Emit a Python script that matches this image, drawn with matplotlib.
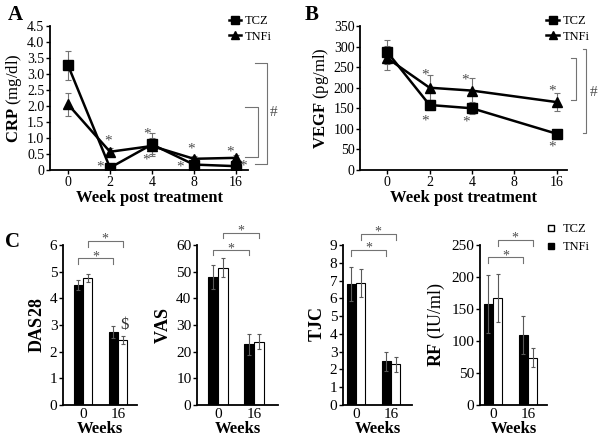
import matplotlib
matplotlib.use("Agg")
import matplotlib.pyplot as plt
from matplotlib.lines import Line2D

plt.rcParams["font.family"] = "Liberation Serif"
plt.rcParams["mathtext.fontset"] = "custom"
plt.rcParams["mathtext.rm"] = "Liberation Serif"
plt.rcParams["mathtext.bf"] = "Liberation Serif:bold"

# panel A / B: time course
weeks = ["0", "2", "4", "8", "16"]
crp_tcz = [3.27, 0.07, 0.80, 0.17, 0.12]
crp_tcz_err = [0.45, 0.05, 0.35, 0.08, 0.05]
crp_tnfi = [2.05, 0.57, 0.75, 0.35, 0.38]
crp_tnfi_err = [0.35, 0.13, 0.25, 0.08, 0.10]

vegf_weeks = ["0", "2", "4", "16"]
vegf_tcz = [287, 158, 150, 88]
vegf_tcz_err = [30, 12, 15, 6]
vegf_tnfi = [272, 200, 193, 165]
vegf_tnfi_err = [30, 30, 30, 22]

# panel C: bars (week 0 vs 16)
bar_weeks = ["0", "16"]
das28_tnfi = [4.50, 2.75]
das28_tnfi_err = [0.20, 0.22]
das28_tcz = [4.78, 2.45]
das28_tcz_err = [0.15, 0.15]
vas_tnfi = [48.0, 22.7]
vas_tnfi_err = [4.5, 3.8]
vas_tcz = [51.5, 23.8]
vas_tcz_err = [3.5, 2.8]
tjc_tnfi = [6.80, 2.45]
tjc_tnfi_err = [0.95, 0.55]
tjc_tcz = [6.85, 2.30]
tjc_tcz_err = [0.80, 0.42]
rf_tnfi = [158, 109]
rf_tnfi_err = [45, 30]
rf_tcz = [167, 74]
rf_tcz_err = [38, 15]

GRAY = "0.45"

fig = plt.figure(figsize=(6, 4.38), dpi=100)


def style(ax):
    for s in ("top", "right"):
        ax.spines[s].set_visible(False)
    for s in ("left", "bottom"):
        ax.spines[s].set_linewidth(1.3)
    ax.tick_params(direction="out", length=3, width=1, labelsize=10, pad=1)


def line_panel(ax, pos_tcz, tcz, tcz_err, pos_tnfi, tnfi, tnfi_err):
    ax.errorbar(pos_tcz, tcz, yerr=tcz_err, fmt="none", ecolor=GRAY, elinewidth=0.8, capsize=2, capthick=0.8)
    ax.errorbar(pos_tnfi, tnfi, yerr=tnfi_err, fmt="none", ecolor=GRAY, elinewidth=0.8, capsize=2, capthick=0.8)
    ax.plot(pos_tcz, tcz, "-s", color="black", lw=1.8, ms=6.5, label="TCZ", zorder=3)
    ax.plot(pos_tnfi, tnfi, "-^", color="black", lw=1.8, ms=6.5, label="TNFi", zorder=3)
    ax.set_xticks(range(len(weeks)), weeks)
    ax.set_xlabel("Week post treatment", fontsize=12, fontweight="bold", labelpad=1)
    ax.legend(loc="upper left", bbox_to_anchor=(0.87, 1.12), frameon=False, fontsize=9,
              handlelength=1.0, handletextpad=0.3, labelspacing=0.3, borderpad=0, markerscale=0.85)


def side_bracket(ax, x, xt, y0, y1):
    tr = ax.get_yaxis_transform()
    ax.plot([xt, x, x, xt], [y0, y0, y1, y1], color=GRAY, lw=0.8, transform=tr, clip_on=False)


def stars(ax, pts):
    for x, y in pts:
        ax.text(x, y, "*", ha="center", va="center", fontsize=11, color="0.3")


# ---- A ----
axA = fig.add_axes([50 / 600, 1 - 170 / 438, 198 / 600, 144 / 438])
style(axA)
line_panel(axA, range(5), crp_tcz, crp_tcz_err, range(5), crp_tnfi, crp_tnfi_err)
axA.set_xlim(-0.43, 4.29)
axA.set_ylim(0, 4.5)
axA.set_yticks([0, 0.5, 1, 1.5, 2, 2.5, 3, 3.5, 4, 4.5],
               ["0", "0.5", "1.0", "1.5", "2.0", "2.5", "3.0", "3.5", "4.0", "4.5"])
axA.set_ylabel(r"$\mathbf{CRP}$ (mg/dl)", fontsize=12, labelpad=2)
stars(axA, [(0.95, 0.9), (0.76, 0.08), (1.88, 1.12), (1.86, 0.3), (2.93, 0.65), (2.67, 0.09),
            (3.86, 0.55), (4.17, 0.12)])
side_bracket(axA, 1.096, 1.035, 3.34, 0.19)
side_bracket(axA, 1.05, 0.985, 1.97, 0.41)
axA.text(1.13, 1.8, "#", transform=axA.get_yaxis_transform(), fontsize=11, color="0.3",
         ha="center", va="center")
fig.text(8 / 600, 1 - 15 / 438, "A", fontsize=15, fontweight="bold", va="center")

# ---- B ----
axB = fig.add_axes([360 / 600, 1 - 170 / 438, 207 / 600, 144 / 438])
style(axB)
vpos = [weeks.index(w) for w in vegf_weeks]
line_panel(axB, vpos, vegf_tcz, vegf_tcz_err, vpos, vegf_tnfi, vegf_tnfi_err)
axB.set_xlim(-0.64, 4.24)
axB.set_ylim(0, 350)
axB.set_yticks(range(0, 351, 50))
axB.set_ylabel(r"$\mathbf{VEGF}$ (pg/ml)", fontsize=12, labelpad=2)
stars(axB, [(0.89, 230), (0.89, 120), (1.84, 218), (1.86, 116), (3.88, 193), (3.88, 55)])
side_bracket(axB, 1.043, 1.019, 272, 170)
side_bracket(axB, 1.092, 1.077, 294, 90)
axB.text(1.13, 188, "#", transform=axB.get_yaxis_transform(), fontsize=11, color="0.3",
         ha="center", va="center")
fig.text(305 / 600, 1 - 15 / 438, "B", fontsize=15, fontweight="bold", va="center")

# ---- C ----
W = 0.27


def bar_panel(rect, xlim, tnfi, tnfi_err, tcz, tcz_err, ylim, yticks, ylabel, br):
    ax = fig.add_axes(rect)
    style(ax)
    x = range(len(bar_weeks))
    xl = [i - W / 2 for i in x]
    xr = [i + W / 2 for i in x]
    ax.bar(xl, tnfi, W, color="black", edgecolor="black", lw=0.8)
    ax.bar(xr, tcz, W, color="white", edgecolor="black", lw=0.8)
    ax.errorbar(xl, tnfi, yerr=tnfi_err, fmt="none", ecolor="0.35", elinewidth=0.8, capsize=1.5, capthick=0.8)
    ax.errorbar(xr, tcz, yerr=tcz_err, fmt="none", ecolor="0.35", elinewidth=0.8, capsize=1.5, capthick=0.8)
    ax.set_xticks(list(x), bar_weeks)
    ax.tick_params(axis="x", length=0, pad=2, labelsize=11)
    ax.tick_params(axis="y", labelsize=11)
    ax.set_xlim(*xlim)
    ax.set_ylim(*ylim)
    ax.set_yticks(yticks)
    ax.set_xlabel("Weeks", fontsize=12, fontweight="bold", labelpad=0)
    ax.set_ylabel(ylabel, fontsize=13, labelpad=3)
    tr = ax.get_xaxis_transform()
    low, high, leg = br
    for (a, b), h in (((-W / 2, 1 - W / 2), low), ((W / 2, 1 + W / 2), high)):
        ax.plot([a, a, b, b], [h - leg, h, h, h - leg], color=GRAY, lw=0.8, transform=tr, clip_on=False)
        ax.text((a + b) / 2, h + 0.01, "*", transform=tr, ha="center", va="center", fontsize=10, color="0.3")
    return ax


bot, hgt = 1 - 405 / 438, 160 / 438
ax1 = bar_panel([63 / 600, bot, 74 / 600, hgt], (-0.571, 1.543), das28_tnfi, das28_tnfi_err,
                das28_tcz, das28_tcz_err, (0, 6), range(0, 7), r"$\mathbf{DAS28}$", (0.917, 1.025, 0.037))
ax1.text(1 + W / 2 + 0.05, 3.0, "$", ha="center", va="center", fontsize=12, color="0.2")
bar_panel([197 / 600, bot, 81 / 600, hgt], (-0.583, 1.667), vas_tnfi, vas_tnfi_err,
          vas_tcz, vas_tcz_err, (0, 60), range(0, 61, 10), r"$\mathbf{VAS}$", (0.967, 1.075, 0.032))
bar_panel([343 / 600, bot, 69 / 600, hgt], (-0.371, 1.6), tjc_tnfi, tjc_tnfi_err,
          tjc_tcz, tjc_tcz_err, (0, 9), range(0, 10), r"$\mathbf{TJC}$", (0.969, 1.069, 0.037))
bar_panel([480 / 600, bot, 67 / 600, hgt], (-0.371, 1.543), rf_tnfi, rf_tnfi_err,
          rf_tcz, rf_tcz_err, (0, 250), range(0, 251, 50), r"$\mathbf{RF}$ (IU/ml)", (0.924, 1.032, 0.037))
fig.text(12 / 600, 1 - 242 / 438, "C", fontsize=15, fontweight="bold", va="center", ha="center")

handles = [Line2D([], [], ls="none", marker="s", ms=5, mfc="white", mec="black", mew=1),
           Line2D([], [], ls="none", marker="s", ms=5, mfc="black", mec="black")]
fig.legend(handles, ["TCZ", "TNFi"], loc="upper left", bbox_to_anchor=(540 / 600, 1 - 217 / 438),
           frameon=False, fontsize=9, handlelength=0.8, handletextpad=0.5, labelspacing=0.45, borderpad=0)

fig.savefig("out.png", dpi=100)
